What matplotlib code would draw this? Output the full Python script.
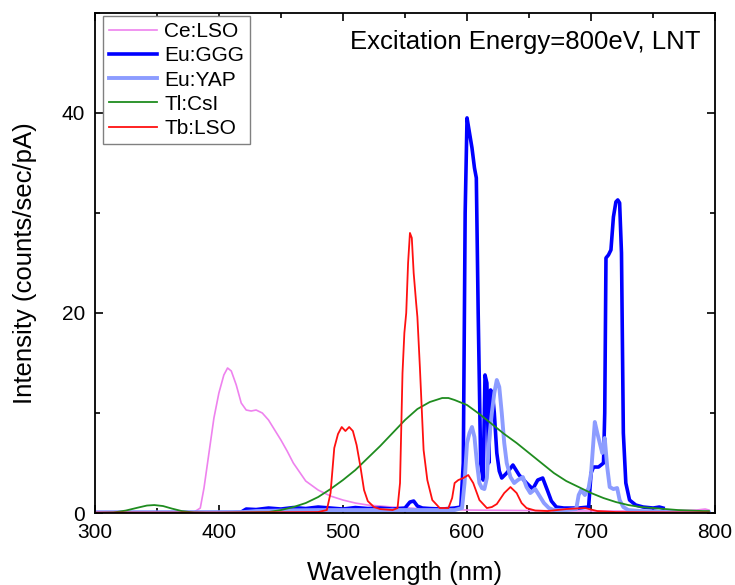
import matplotlib
matplotlib.use("Agg")
from matplotlib import pyplot as plt
from matplotlib.ticker import MultipleLocator

plt.rcParams['font.family'] = ['Liberation Sans', 'DejaVu Sans']

# Ce:LSO
wl_ce = [300, 340, 380, 385, 388, 392, 396, 400, 404, 407, 410, 414, 418, 422, 426, 430, 435, 440,
         445, 450, 455, 460, 470, 480, 490, 500, 510, 520, 540, 560, 580, 600, 650, 700, 750, 785, 792, 795]
i_ce = [0.1, 0.1, 0.1, 0.5, 2.5, 6.0, 9.5, 12.0, 13.8, 14.5, 14.2, 12.8, 11.0, 10.3, 10.2, 10.3, 10.0, 9.3,
        8.3, 7.3, 6.2, 5.0, 3.2, 2.3, 1.7, 1.3, 1.0, 0.8, 0.6, 0.45, 0.35, 0.3, 0.25, 0.2, 0.2, 0.3, 0.4, 0.3]

# Eu:GGG
wl_ggg = [300, 410, 418, 422, 430, 440, 450, 460, 470, 480, 490, 500, 510, 520, 530, 540, 550, 554, 557,
          560, 564, 570, 580, 590, 595, 597, 598.5, 600, 602, 604, 606, 607.5, 609, 611, 613, 614.5, 616,
          617.5, 619, 620.5, 622, 624, 626, 628, 632, 637, 642, 648, 653, 657, 661, 665, 668, 672, 678,
          690, 698, 700, 702, 706, 710, 711, 712, 714, 716, 718, 720, 721.5, 723, 724.5, 726, 728, 731,
          736, 742, 750, 755, 758]
i_ggg = [0.05, 0.05, 0.1, 0.4, 0.35, 0.5, 0.4, 0.55, 0.45, 0.6, 0.5, 0.4, 0.55, 0.45, 0.5, 0.4, 0.5, 1.1, 1.2,
         0.7, 0.5, 0.45, 0.4, 0.5, 0.6, 5.0, 30.0, 39.5, 38.0, 36.5, 34.5, 33.5, 20.0, 5.0, 3.3, 13.8, 13.0,
         5.0, 12.3, 12.0, 10.0, 6.0, 4.2, 3.5, 4.0, 4.8, 3.8, 3.0, 2.4, 3.3, 3.5, 2.2, 1.2, 0.6, 0.5,
         0.5, 0.6, 4.0, 4.6, 4.6, 5.0, 10.0, 25.5, 25.8, 26.3, 29.6, 31.1, 31.3, 31.0, 26.0, 8.0, 3.0, 1.3,
         0.8, 0.6, 0.5, 0.6, 0.5]

# Eu:YAP
wl_yap = [300, 420, 430, 450, 480, 500, 550, 580, 590, 596, 598, 600, 602, 604, 606, 608, 610, 612, 614,
          616, 618, 620, 622, 624, 626, 628, 630, 632, 635, 638, 641, 645, 648, 651, 655, 658, 662, 666,
          670, 680, 688, 690, 692, 695, 698, 700, 703, 705, 707, 709, 711, 713, 715, 718, 721, 723, 726,
          730, 740, 760, 795]
i_yap = [0.05, 0.1, 0.2, 0.25, 0.3, 0.3, 0.3, 0.3, 0.3, 0.5, 3.0, 7.0, 8.0, 8.6, 7.6, 5.0, 3.0, 2.5, 2.4,
         3.5, 7.6, 10.0, 12.0, 13.3, 12.6, 10.0, 7.0, 5.0, 3.6, 3.0, 3.3, 3.6, 2.6, 2.0, 2.4, 1.8, 1.0, 0.5,
         0.3, 0.3, 0.4, 1.8, 2.3, 1.8, 2.5, 4.0, 9.1, 8.0, 7.0, 6.0, 7.5, 4.6, 2.6, 2.4, 2.5, 1.3, 0.6,
         0.3, 0.2, 0.1, 0.05]

# Tl:CsI
wl_csi = [300, 315, 325, 335, 342, 348, 355, 362, 370, 380, 390, 400, 420, 440, 450, 460, 470, 480, 490,
          500, 510, 520, 530, 540, 550, 560, 570, 580, 585, 590, 600, 610, 620, 630, 640, 650, 660, 670,
          680, 690, 700, 710, 720, 730, 740, 750, 760, 770, 780, 790, 795]
i_csi = [0.0, 0.05, 0.25, 0.55, 0.75, 0.8, 0.7, 0.45, 0.2, 0.05, 0.02, 0.02, 0.05, 0.1, 0.3, 0.6, 1.0, 1.6, 2.4,
         3.3, 4.3, 5.5, 6.7, 8.0, 9.3, 10.4, 11.1, 11.5, 11.5, 11.3, 10.8, 9.9, 8.9, 7.9, 7.0, 6.0, 5.0, 4.0,
         3.2, 2.6, 2.0, 1.5, 1.1, 0.8, 0.6, 0.5, 0.4, 0.3, 0.25, 0.2, 0.2]

# Tb:LSO
wl_tb = [300, 400, 480, 487, 490, 493, 496, 499, 502, 505, 508, 511, 514, 517, 520, 525, 530, 540, 544,
         546, 548, 549.5, 551, 552.5, 554, 555.5, 557, 559, 560, 562, 565, 568, 572, 578, 585, 588, 590,
         593, 597, 601, 605, 610, 616, 620, 624, 630, 635, 640, 644, 648, 655, 665, 680, 695, 705, 720, 795]
i_tb = [0.05, 0.05, 0.1, 0.3, 2.0, 6.5, 7.9, 8.6, 8.2, 8.6, 8.2, 6.8, 4.7, 2.3, 1.2, 0.6, 0.4, 0.3, 0.5,
        3.0, 14.0, 18.0, 20.0, 25.0, 28.0, 27.5, 24.0, 21.0, 19.6, 14.6, 6.3, 3.3, 1.3, 0.5, 0.5, 1.5, 3.0,
        3.3, 3.5, 3.8, 3.0, 1.3, 0.5, 0.6, 0.9, 2.0, 2.6, 2.0, 1.0, 0.5, 0.25, 0.2, 0.4, 0.5, 0.2, 0.1, 0.05]

fig = plt.figure(figsize=(7.35, 5.85), dpi=100)
ax = fig.add_axes([0.129, 0.123, 0.844, 0.855])

ax.plot(wl_ce, i_ce, color='#ee82ee', lw=1.2, label='Ce:LSO')
ax.plot(wl_ggg, i_ggg, color='#0000ff', lw=2.6, label='Eu:GGG')
ax.plot(wl_yap, i_yap, color='#8c9cff', lw=2.8, label='Eu:YAP')
ax.plot(wl_csi, i_csi, color='#1f8c1f', lw=1.3, label='Tl:CsI')
ax.plot(wl_tb, i_tb, color='#ff1010', lw=1.3, label='Tb:LSO')

ax.set_xlim(300, 800)
ax.set_ylim(0, 50)
ax.xaxis.set_major_locator(MultipleLocator(100))
ax.xaxis.set_minor_locator(MultipleLocator(50))
ax.yaxis.set_major_locator(MultipleLocator(20))
ax.yaxis.set_minor_locator(MultipleLocator(10))
ax.tick_params(which='both', direction='in', top=True, right=True, width=1.2, labelsize=15)
ax.tick_params(which='major', length=6, pad=7)
ax.tick_params(which='minor', length=3.5)
for s in ax.spines.values():
    s.set_linewidth(1.3)

ax.set_xlabel('Wavelength (nm)', fontsize=18.5, labelpad=14)
ax.set_ylabel('Intensity (counts/sec/pA)', fontsize=18.5, labelpad=18)

ax.text(788, 47.1, 'Excitation Energy=800eV, LNT', fontsize=18.5, ha='right', va='center')

leg = ax.legend(loc='upper left', bbox_to_anchor=(0.013, 0.994), borderaxespad=0, fontsize=15,
                handlelength=2.3, handletextpad=0.35, labelspacing=0.25, borderpad=0.3,
                fancybox=False, framealpha=1)
leg.get_frame().set_edgecolor('#808080')
leg.get_frame().set_linewidth(1.0)

fig.savefig('out.png', dpi=100)
